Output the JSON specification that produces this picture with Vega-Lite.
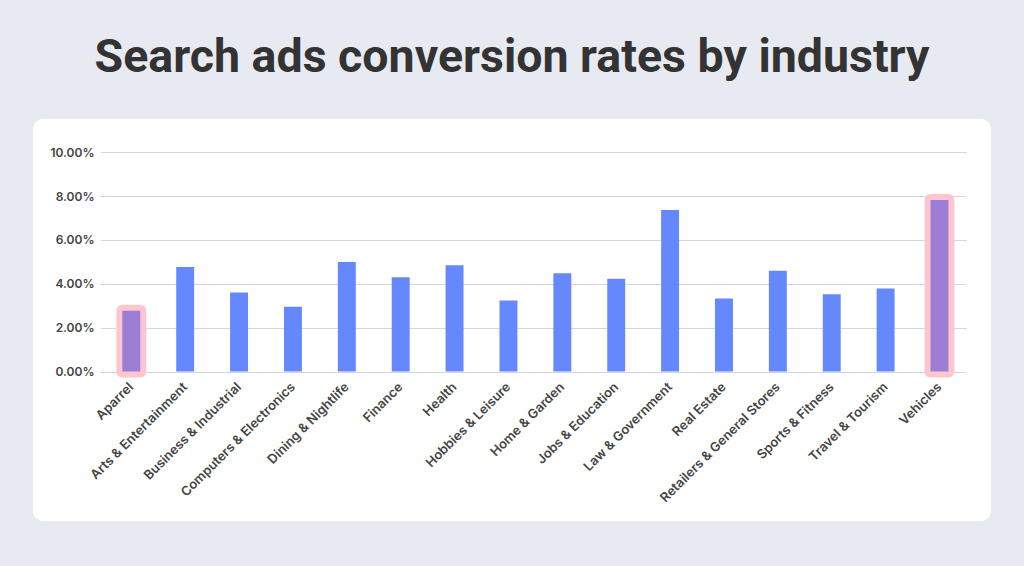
{
  "$schema": "https://vega.github.io/schema/vega-lite/v6.json",
  "width": 958,
  "height": 402,
  "autosize": {"type": "none"},
  "padding": {"left": 33, "top": 119, "right": 33, "bottom": 45},
  "background": "#e8eaf2",
  "view": {"fill": "#ffffff", "stroke": null, "cornerRadius": 10},
  "title": {
    "text": "Search ads conversion rates by industry",
    "font": "Roboto",
    "fontSize": 46.5,
    "fontWeight": "bold",
    "color": "#333333",
    "anchor": "middle",
    "baseline": "alphabetic",
    "offset": 1
  },
  "data": {
    "values": [
      {"industry": "Aparrel", "rate": 0.0277},
      {"industry": "Arts & Entertainment", "rate": 0.0477},
      {"industry": "Business & Industrial", "rate": 0.0360},
      {"industry": "Computers & Electronics", "rate": 0.0295},
      {"industry": "Dining & Nightlife", "rate": 0.0500},
      {"industry": "Finance", "rate": 0.0430},
      {"industry": "Health", "rate": 0.0485},
      {"industry": "Hobbies & Leisure", "rate": 0.0324},
      {"industry": "Home & Garden", "rate": 0.0448},
      {"industry": "Jobs & Education", "rate": 0.0423},
      {"industry": "Law & Government", "rate": 0.0737},
      {"industry": "Real Estate", "rate": 0.0333},
      {"industry": "Retailers & General Stores", "rate": 0.0460},
      {"industry": "Sports & Fitness", "rate": 0.0352},
      {"industry": "Travel & Tourism", "rate": 0.0379},
      {"industry": "Vehicles", "rate": 0.0782}
    ]
  },
  "encoding": {
    "x": {
      "field": "industry",
      "type": "nominal",
      "sort": null,
      "scale": {"range": [67, 933], "paddingInner": 0.667, "paddingOuter": 0.37, "align": 0.56},
      "axis": {
        "title": null,
        "orient": "bottom",
        "offset": -149.5,
        "labelAngle": -45,
        "labelAlign": "right",
        "labelBaseline": "middle",
        "domain": false,
        "ticks": false,
        "labelPadding": 13,
        "labelFont": "Inter",
        "labelFontSize": 13,
        "labelFontWeight": 600,
        "labelColor": "#444444"
      }
    },
    "y": {
      "field": "rate",
      "type": "quantitative",
      "scale": {"domain": [0, 0.1], "range": [252.5, 33.3], "nice": false},
      "axis": {
        "title": null,
        "values": [0, 0.02, 0.04, 0.06, 0.08, 0.1],
        "format": ".2%",
        "offset": -67,
        "domain": false,
        "ticks": false,
        "grid": true,
        "gridColor": "#d4d4e4",
        "gridWidth": 1.2,
        "labelPadding": 6,
        "labelFont": "Inter",
        "labelFontSize": 12,
        "labelFontWeight": 600,
        "labelColor": "#444444"
      }
    }
  },
  "layer": [
    {"mark": {"type": "bar", "color": "#6688ff"}},
    {
      "transform": [{"filter": {"field": "industry", "oneOf": ["Aparrel", "Vehicles"]}}],
      "mark": {"type": "bar", "fill": "#fcc6d0", "stroke": "#fcc6d0", "strokeWidth": 12, "strokeJoin": "round"}
    },
    {
      "transform": [{"filter": {"field": "industry", "oneOf": ["Aparrel", "Vehicles"]}}],
      "mark": {"type": "bar", "color": "#9b7dd4"}
    }
  ]
}
